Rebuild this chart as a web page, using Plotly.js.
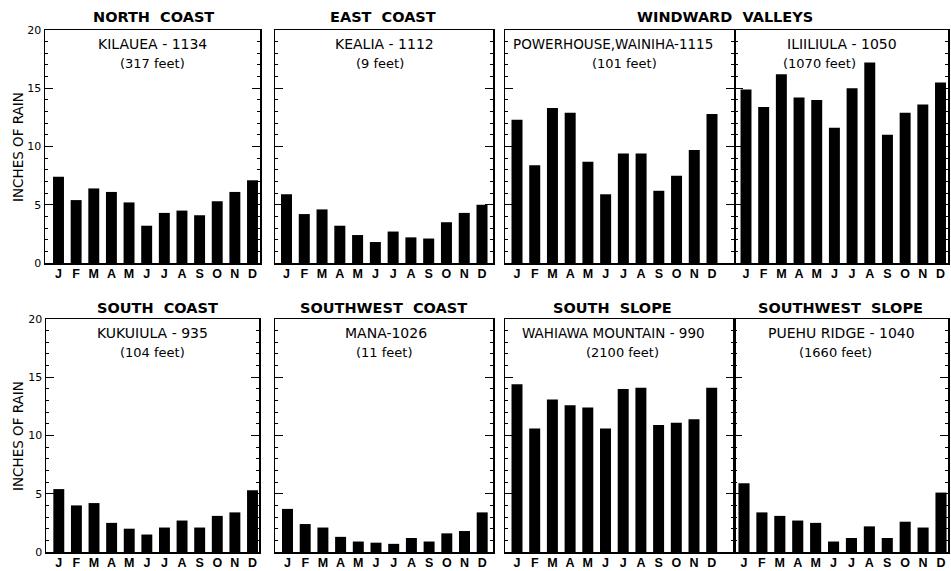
<!DOCTYPE html>
<html>
<head>
<meta charset="utf-8">
<script src="https://cdn.plot.ly/plotly-3.0.1.min.js"></script>
<style>html,body{margin:0;padding:0;background:#fff;}#chart{width:951px;height:571px;}</style>
</head>
<body>
<div id="chart"></div>
<script>
// ---- data ----
const months = ['Jan','Feb','Mar','Apr','May','Jun','Jul','Aug','Sep','Oct','Nov','Dec'];
const monthLabels = ['J','F','M','A','M','J','J','A','S','O','N','D'];
const yTicks = [0, 5, 10, 15, 20];

const regions = ['NORTH COAST','EAST COAST','WINDWARD VALLEYS','SOUTH COAST','SOUTHWEST COAST','SOUTH SLOPE','SOUTHWEST SLOPE'];
const stations = ['KILAUEA - 1134','KEALIA - 1112','POWERHOUSE,WAINIHA-1115','ILIILIULA - 1050',
                  'KUKUIULA - 935','MANA-1026','WAHIAWA MOUNTAIN - 990','PUEHU RIDGE - 1040'];
const elevations = ['(317 feet)','(9 feet)','(101 feet)','(1070 feet)','(104 feet)','(11 feet)','(2100 feet)','(1660 feet)'];

const kilauea    = [7.4, 5.4, 6.4, 6.1, 5.2, 3.2, 4.3, 4.5, 4.1, 5.3, 6.1, 7.1];
const kealia     = [5.9, 4.2, 4.6, 3.2, 2.4, 1.8, 2.7, 2.2, 2.1, 3.5, 4.3, 5.0];
const powerhouse = [12.3, 8.4, 13.3, 12.9, 8.7, 5.9, 9.4, 9.4, 6.2, 7.5, 9.7, 12.8];
const iliiliula  = [14.9, 13.4, 16.2, 14.2, 14.0, 11.6, 15.0, 17.2, 11.0, 12.9, 13.6, 15.5];
const kukuiula   = [5.4, 4.0, 4.2, 2.5, 2.0, 1.5, 2.1, 2.7, 2.1, 3.1, 3.4, 5.3];
const mana       = [3.7, 2.4, 2.1, 1.3, 0.9, 0.8, 0.7, 1.2, 0.9, 1.6, 1.8, 3.4];
const wahiawa    = [14.4, 10.6, 13.1, 12.6, 12.4, 10.6, 14.0, 14.1, 10.9, 11.1, 11.4, 14.1];
const puehu      = [5.9, 3.4, 3.1, 2.7, 2.5, 0.9, 1.2, 2.2, 1.2, 2.6, 2.1, 5.1];
const series = [kilauea, kealia, powerhouse, iliiliula, kukuiula, mana, wahiawa, puehu];

// ---- layout geometry (pixels) ----
const W = 951, H = 571;
const FONT = 'DejaVu Sans';
const MONTH_FONT = 'Liberation Sans';
// [x0, x1, firstBarCenter, lastBarCenter]
const panelsX = [
  [45, 260, 58.5, 252.5], [275, 493, 286.5, 482], [505, 734, 517, 712], [735, 948, 746, 940.5],
  [46, 259, 58.8, 252.5], [275, 493, 287.5, 482.2], [505, 734, 517, 711.7], [734, 948, 744, 941]
];
const rowsY = [[30, 263], [319, 552]];
const stationDx = [0, 0, -7, 0, 0, 2, -6, 0];
const elevDx = [0, -4, 5, -22, 0, 0, 3, -6];
const stationSize = [14, 14, 13.5, 14, 14, 14, 13.5, 14];

const px = x => x / W;
const py = y => 1 - y / H;

const traces = [];
const layout = {
  width: W, height: H,
  margin: {l: 0, r: 0, t: 0, b: 0},
  paper_bgcolor: '#fff', plot_bgcolor: '#fff',
  showlegend: false,
  font: {family: FONT, color: '#000'},
  annotations: []
};

series.forEach((vals, i) => {
  const n = i + 1;
  const xa = n === 1 ? 'x' : 'x' + n;
  const ya = n === 1 ? 'y' : 'y' + n;
  traces.push({
    type: 'bar', x: months, y: vals, xaxis: xa, yaxis: ya,
    marker: {color: '#000', line: {width: 0}}, width: 0.62,
    hoverinfo: 'skip'
  });
  const [x0, x1, jc, dc] = panelsX[i];
  const s = (dc - jc) / 11;
  const row = i < 4 ? 0 : 1;
  const [yt, yb] = rowsY[row];
  const leftPanel = (i % 4) === 0;
  layout['xaxis' + (n === 1 ? '' : n)] = {
    domain: [px(x0), px(x1)], anchor: ya,
    type: 'category', categoryorder: 'array', categoryarray: months,
    range: [-(jc - x0) / s, 11 + (x1 - dc) / s],
    tickmode: 'array', tickvals: months, ticktext: monthLabels,
    ticks: '', showgrid: false, zeroline: false,
    showline: true, mirror: true, linecolor: '#000', linewidth: 1.5,
    tickfont: {family: MONTH_FONT, size: 12.5, color: '#000', weight: 'bold'},
    ticklabelstandoff: -2,
    fixedrange: true
  };
  layout['yaxis' + (n === 1 ? '' : n)] = {
    domain: [py(yb), py(yt)], anchor: xa,
    range: [0, 20], tickmode: 'array', tickvals: yTicks,
    showticklabels: leftPanel,
    ticks: 'inside', ticklen: 8, tickwidth: 1.2, tickcolor: '#000',
    minor: {dtick: 1, ticks: 'inside', ticklen: 3, tickwidth: 1, tickcolor: '#000'},
    showgrid: false, zeroline: false,
    showline: true, mirror: 'allticks', linecolor: '#000', linewidth: 1.5,
    tickfont: {family: FONT, size: 11, color: '#000'},
    fixedrange: true
  };
  const cx = (x0 + x1) / 2;
  layout.annotations.push({
    xref: 'paper', yref: 'paper', x: px(cx + stationDx[i]), y: py(yt + 14),
    text: stations[i], showarrow: false, xanchor: 'center', yanchor: 'middle',
    font: {family: FONT, size: stationSize[i], color: '#000'}
  });
  layout.annotations.push({
    xref: 'paper', yref: 'paper', x: px(cx + elevDx[i]), y: py(yt + 33),
    text: elevations[i], showarrow: false, xanchor: 'center', yanchor: 'middle',
    font: {family: FONT, size: 13, color: '#000'}
  });
});

// region titles
const regionPos = [[153, 17], [383, 17], [725, 17], [157, 308], [383, 308], [612, 308], [840, 308]];
regions.forEach((r, i) => {
  layout.annotations.push({
    xref: 'paper', yref: 'paper', x: px(regionPos[i][0]), y: py(regionPos[i][1]),
    text: r.replace(' ', '&nbsp;&nbsp;'), showarrow: false, xanchor: 'center', yanchor: 'middle',
    font: {family: FONT, size: 14.5, color: '#000', weight: 'bold'}
  });
});

// y-axis titles
[[18, 147], [18, 436]].forEach(p => {
  layout.annotations.push({
    xref: 'paper', yref: 'paper', x: px(p[0]), y: py(p[1]),
    text: 'INCHES OF RAIN', textangle: -90, showarrow: false,
    xanchor: 'center', yanchor: 'middle',
    font: {family: FONT, size: 13.5, color: '#000'}
  });
});

Plotly.newPlot('chart', traces, layout, {displayModeBar: false, staticPlot: true});
</script>
</body>
</html>
